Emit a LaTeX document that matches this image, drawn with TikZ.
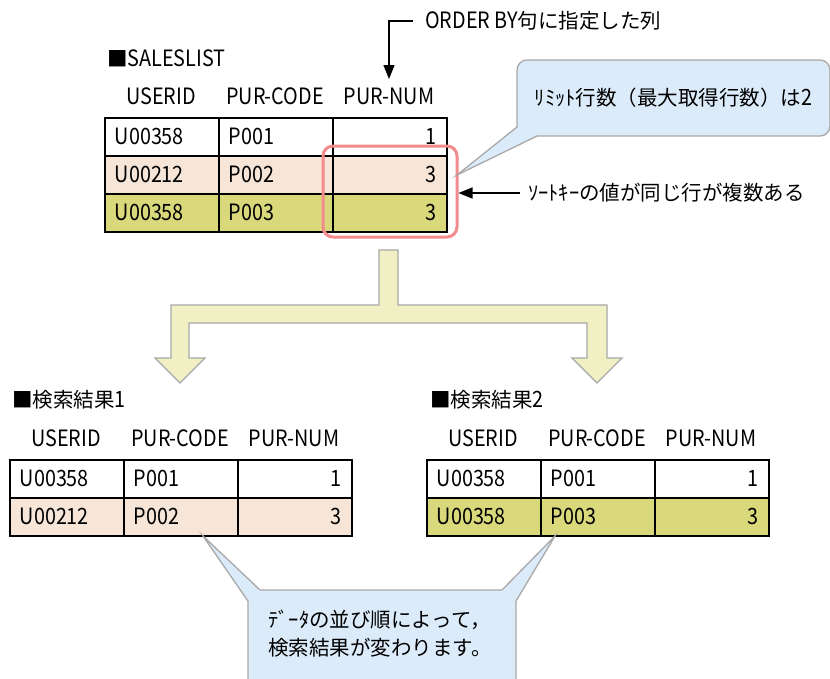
\documentclass[tikz,border=0pt]{standalone}
\usepackage{fontspec}
\setmainfont{Noto Sans CJK JP}
\newfontfamily\latn{Noto Sans CJK JP}[FakeStretch=0.88]
\newcommand{\latsz}{\latn\fontsize{22.5}{28}\selectfont}
\usetikzlibrary{arrows.meta}
\definecolor{peach}{HTML}{F7E6D8}
\definecolor{olive}{HTML}{D9D87A}
\definecolor{cfill}{HTML}{DCEBFA}
\definecolor{cline}{HTML}{A8A8A8}
\definecolor{yfill}{HTML}{F0F0C4}
\definecolor{hlred}{HTML}{F28B8B}
\tikzset{
  txt/.style={font=\fontsize{20.5}{28}\selectfont, inner sep=0pt},
  cellL/.style={draw, line width=1.5pt, minimum width=114pt, minimum height=38pt,
    text width=94pt, align=left, inner sep=0pt, anchor=north west,
    font=\latsz},
  cellR/.style={cellL, align=right},
  hdr/.style={font=\latsz, inner sep=0pt},
  callout/.style={draw=cline, fill=cfill, line width=1.3pt, rounded corners=10pt},
  tailfill/.style={fill=cfill},
  tailline/.style={draw=cline, line width=1.3pt},
  arr/.style={line width=1.2pt, -{Triangle[length=14pt,width=11pt]}},
  bigarrow/.style={draw=cline, fill=yfill, line width=1.2pt},
  hlbox/.style={draw=hlred, line width=3pt, rounded corners=10pt, inner sep=0pt},
}
\newcommand{\mytrow}[7]{%
  \node[cellL, fill=#4] (#1a) at (#2,#3) {#5};
  \node[cellL, fill=#4] (#1b) at (#2+114,#3) {#6};
  \node[cellR, fill=#4] (#1c) at (#2+228,#3) {#7};
}
\begin{document}
\begin{tikzpicture}[x=1pt,y=-1pt]
\clip (0,0) rectangle (830,678);
\fill[white] (0,0) rectangle (830,678);

% ORDER BY annotation
\node[txt, anchor=west] (ob) at (425,21) {{\latsz ORDER BY}句に指定した列};
\coordinate (obtip) at (389,79);
\draw[arr] ([xshift=-12pt]ob.west) -| (obtip);

% SALESLIST
\node[txt, anchor=west] (sl) at (107,58) {■{\latsz SALESLIST}};
\node[hdr] (sh1) at (161,96) {USERID};
\node[hdr] (sh2) at (275,96) {PUR-CODE};
\node[hdr] (sh3) at (389,96) {PUR-NUM};
\mytrow{sr1}{104}{117}{white}{U00358}{P001}{1}
\mytrow{sr2}{104}{155}{peach}{U00212}{P002}{3}
\mytrow{sr3}{104}{193}{olive}{U00358}{P003}{3}

% highlight
\node[hlbox, minimum width=134pt, minimum height=91pt] (hl) at (390,191.5) {};

% top callout
\node[callout, minimum width=313pt, minimum height=76pt, font=\fontsize{20.5}{24}\selectfont] (lim) at (673.5,98) {ﾘﾐｯﾄ行数（最大取得行数）は{\latsz 2}};
\fill[tailfill] (457,175) -- (517,127) -- (521,127) -- (537,133) -- (537,136) -- cycle;
\draw[tailline] (517,127) -- (457,175) -- (537,136);

% sort key arrow
\node[txt, anchor=west] (sk) at (528,193) {ｿｰﾄｷｰの値が同じ行が複数ある};
\draw[arr] ([xshift=-8pt]sk.west) -- (hl.east |- sk.west);

% branching arrow
\draw[bigarrow] (379,250) -- (398,250) -- (398,305) -- (607,305) -- (607,358) -- (622,358)
  -- (597,383) -- (572,358) -- (587,358) -- (587,323) -- (189,323) -- (189,358)
  -- (205,358) -- (180,383) -- (155,358) -- (171,358) -- (171,305) -- (379,305) -- cycle;

% result 1
\node[txt, anchor=west] (r1) at (12,400) {■検索結果{\latsz 1}};
\node[hdr] (ah1) at (66,438) {USERID};
\node[hdr] (ah2) at (180,438) {PUR-CODE};
\node[hdr] (ah3) at (294,438) {PUR-NUM};
\mytrow{ar1}{9}{459}{white}{U00358}{P001}{1}
\mytrow{ar2}{9}{497}{peach}{U00212}{P002}{3}

% result 2
\node[txt, anchor=west] (r2) at (430,400) {■検索結果{\latsz 2}};
\node[hdr] (bh1) at (483,438) {USERID};
\node[hdr] (bh2) at (597,438) {PUR-CODE};
\node[hdr] (bh3) at (711,438) {PUR-NUM};
\mytrow{br1}{426}{459}{white}{U00358}{P001}{1}
\mytrow{br2}{426}{497}{olive}{U00358}{P003}{3}

% bottom callout
\node[callout, minimum width=268pt, minimum height=120pt] (bc) at (382,650) {};
\fill[tailfill] (203,536) -- (248,601) -- (251,601) -- (260,593) -- (260,590) -- cycle;
\draw[tailline] (248,601) -- (203,536) -- (260,590);
\fill[tailfill] (555,536) -- (502,590) -- (502,593) -- (513,601) -- (516,601) -- cycle;
\draw[tailline] (502,590) -- (555,536) -- (516,601);
\node[txt, align=left] (bct) at (380,634) {ﾃﾞｰﾀの並び順によって，\\検索結果が変わります。};
\end{tikzpicture}
\end{document}
